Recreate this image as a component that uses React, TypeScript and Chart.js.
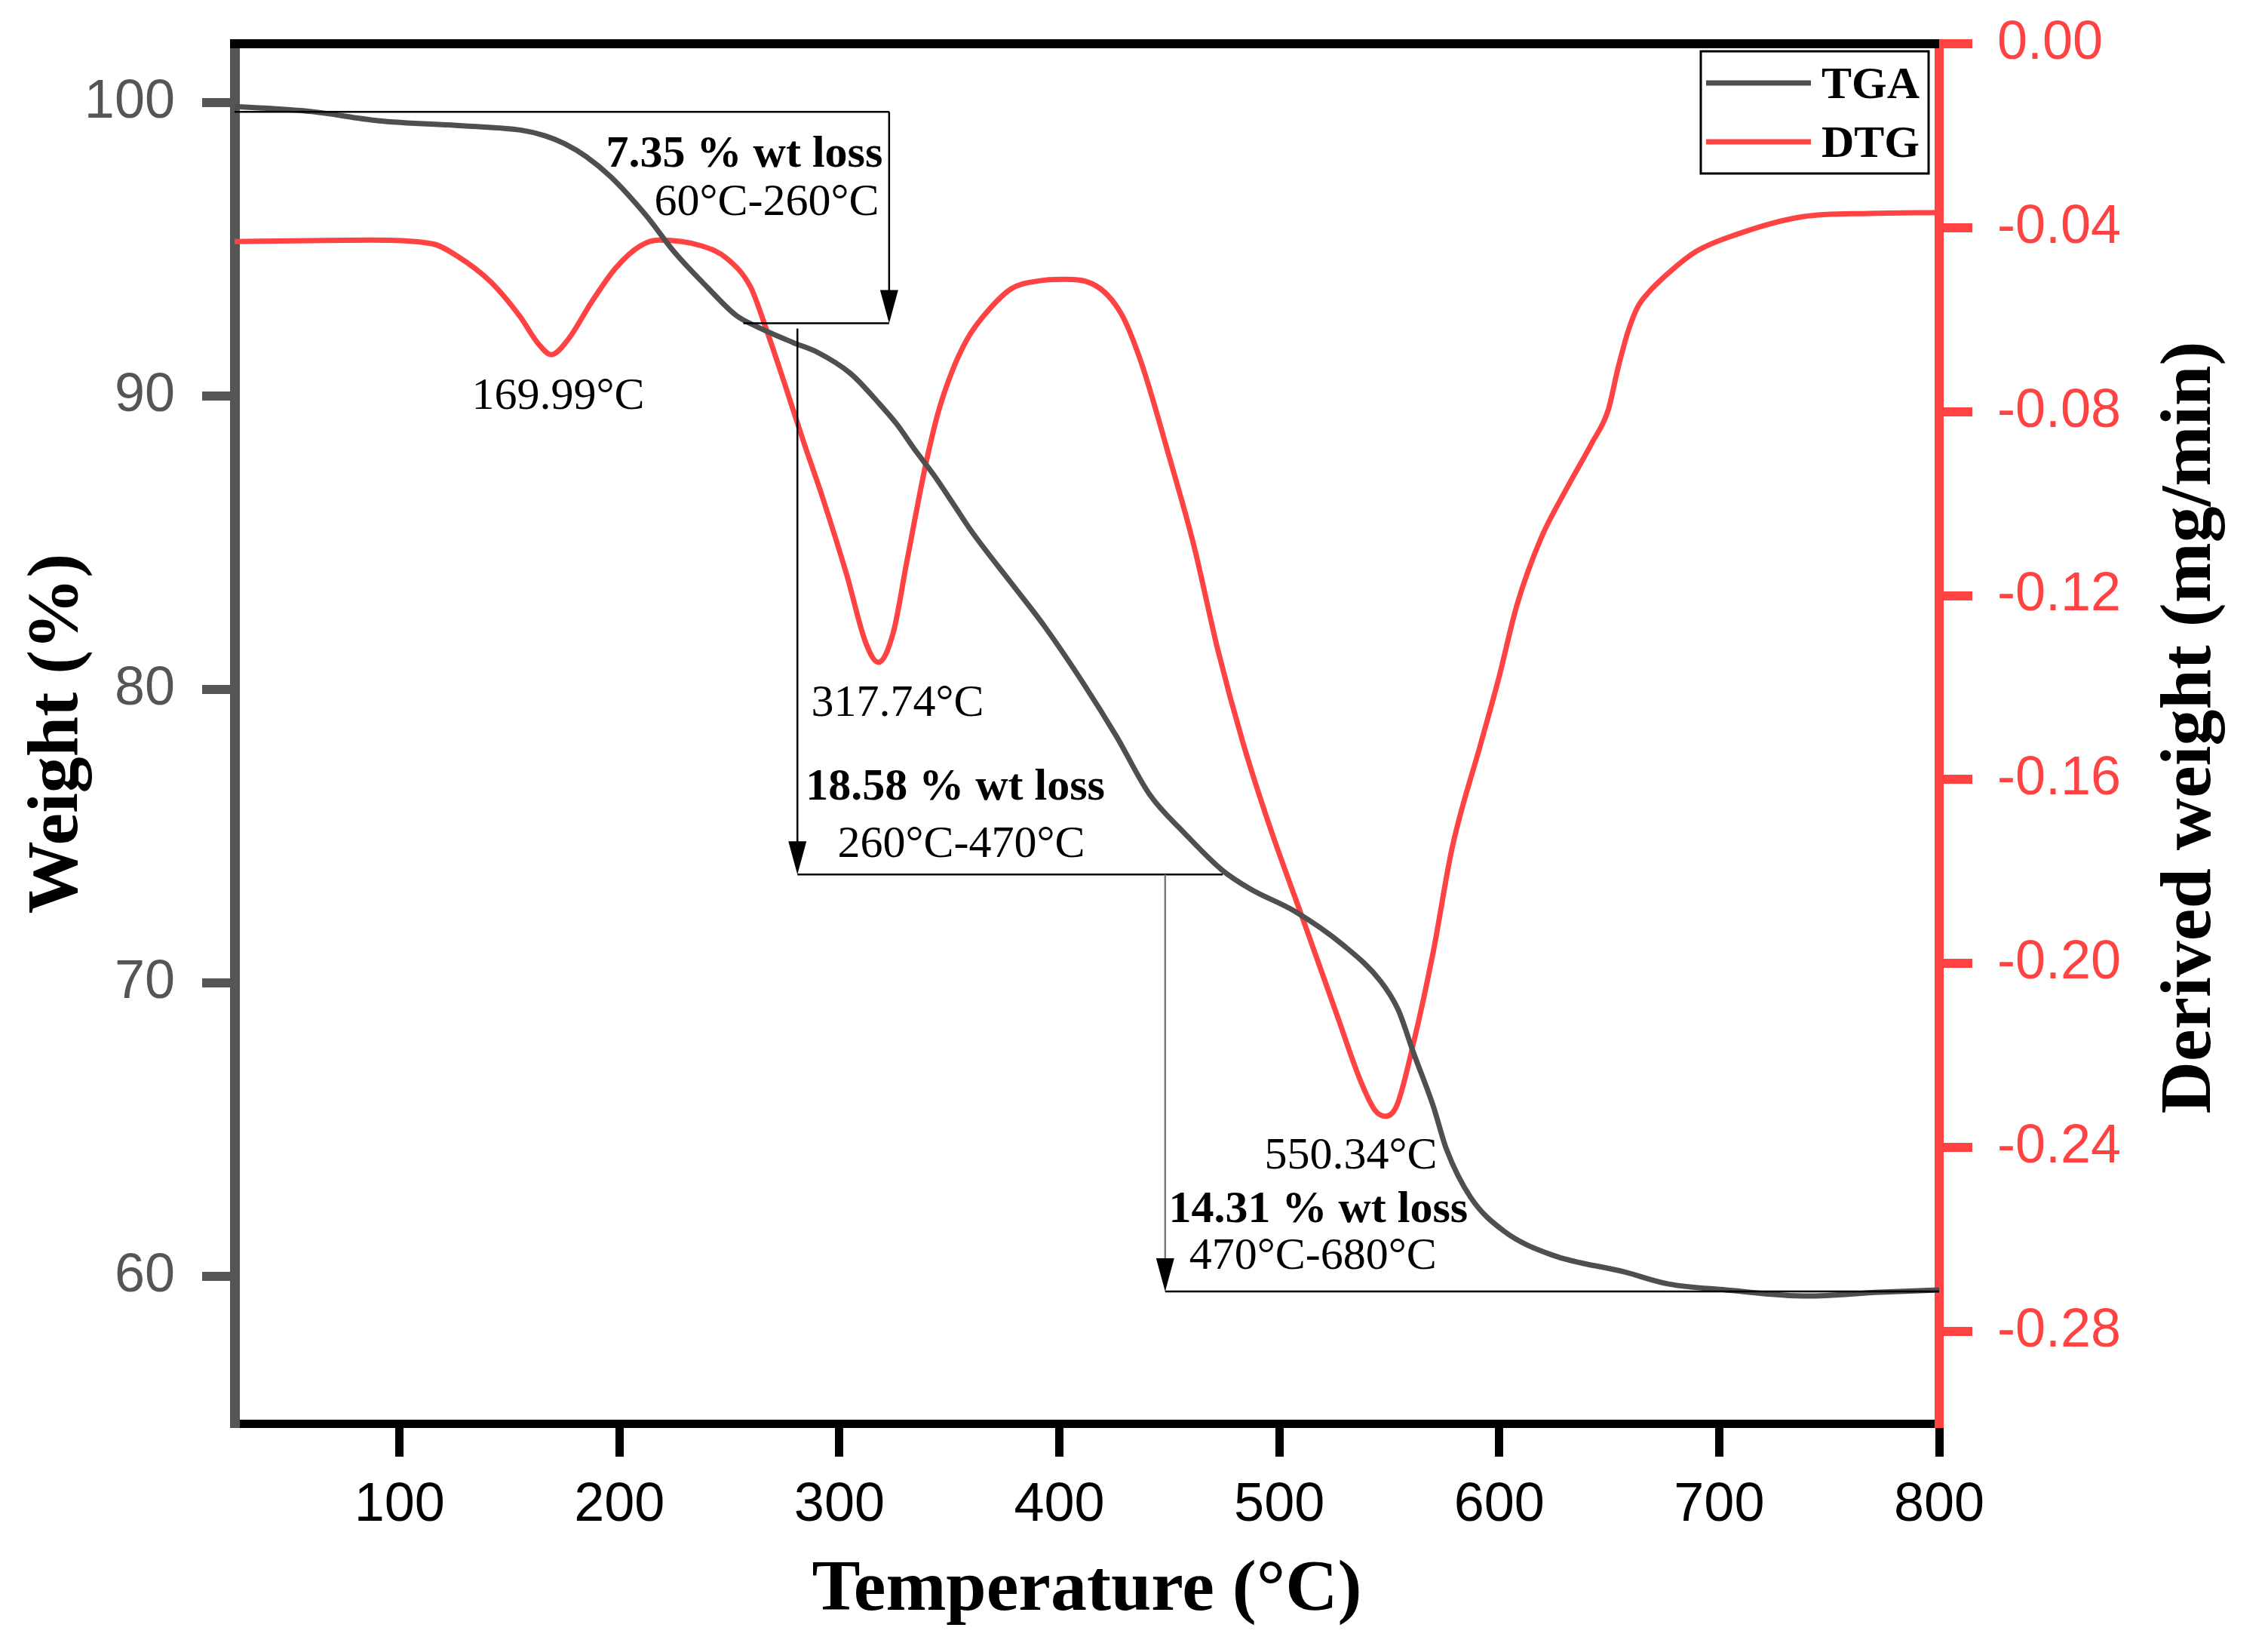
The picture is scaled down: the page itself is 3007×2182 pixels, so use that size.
import { useEffect, useRef } from "react";
import { Chart, registerables } from "chart.js";

Chart.register(...registerables);

// TGA curve: temperature (°C) and weight (%)
const tgaTemp = [25, 40, 60, 90, 130, 155, 166, 175, 185, 196, 212, 225, 240, 253, 262, 279, 290, 305, 318, 326, 334, 343, 352, 360, 378, 393, 411, 426, 441, 457, 474, 487, 507, 529, 546, 554, 561, 570, 576, 587, 602, 624, 657, 677, 703, 740, 773, 800];
const tgaWeight = [99.86, 99.8, 99.69, 99.38, 99.2, 99.06, 98.87, 98.6, 98.15, 97.47, 96.16, 94.9, 93.7, 92.75, 92.38, 91.82, 91.49, 90.77, 89.75, 89.05, 88.2, 87.3, 86.3, 85.4, 83.64, 82.18, 80.2, 78.4, 76.43, 75.1, 73.85, 73.2, 72.45, 71.3, 70.07, 69.1, 67.63, 65.81, 64.34, 62.7, 61.56, 60.74, 60.16, 59.75, 59.55, 59.34, 59.47, 59.55];

// DTG curve: temperature (°C) and derived weight (mg/min)
const dtgTemp = [25, 60, 87, 115, 126, 141.5, 154.6, 163.4, 169, 176.5, 187.4, 198.4, 209.3, 218, 237.7, 248.6, 259.6, 266.2, 275, 283.6, 292.5, 303.4, 312, 317.7, 324.5, 330.5, 339, 345, 351, 358, 365, 378, 390, 402, 415, 428, 437, 450, 461, 472, 483.5, 495.5, 511, 526, 537, 543.5, 548.5, 553.4, 561, 570, 578.5, 591.7, 599.7, 608, 619, 631, 642, 649.5, 654, 658.6, 663, 668, 674, 689, 707, 738, 768, 800];
const dtgRate = [-0.043, -0.0428, -0.0427, -0.0435, -0.0461, -0.0518, -0.0592, -0.0654, -0.0676, -0.0644, -0.0561, -0.0487, -0.044, -0.0427, -0.044, -0.0466, -0.0529, -0.0613, -0.0738, -0.0864, -0.0989, -0.1156, -0.1303, -0.1345, -0.128, -0.113, -0.092, -0.08, -0.0715, -0.0643, -0.0595, -0.0533, -0.0516, -0.0512, -0.0522, -0.0586, -0.069, -0.0899, -0.1088, -0.1317, -0.152, -0.17, -0.1907, -0.2109, -0.2256, -0.2319, -0.2332, -0.2309, -0.2173, -0.1974, -0.175, -0.152, -0.1381, -0.1221, -0.1075, -0.0964, -0.0869, -0.0797, -0.0705, -0.0625, -0.0572, -0.054, -0.0511, -0.0453, -0.0416, -0.0376, -0.0369, -0.0367];

// tick labels
const tempTicks = [100, 200, 300, 400, 500, 600, 700, 800];
const weightTicks = [60, 70, 80, 90, 100];
const rateTicks = [0, -0.04, -0.08, -0.12, -0.16, -0.2, -0.24, -0.28];

// annotation texts (data units: temperature, weight at baseline)
const notes = [
  { text: "7.35 % wt loss", x: 256.8, y: 97.8, bold: true },
  { text: "60°C-260°C", x: 266.9, y: 96.16 },
  { text: "169.99°C", x: 172.1, y: 89.57 },
  { text: "317.74°C", x: 326.4, y: 79.11 },
  { text: "18.58 % wt loss", x: 352.7, y: 76.24, bold: true },
  { text: "260°C-470°C", x: 355.4, y: 74.3 },
  { text: "550.34°C", x: 532.5, y: 63.68 },
  { text: "14.31 % wt loss", x: 517.7, y: 61.87, bold: true },
  { text: "470°C-680°C", x: 515.3, y: 60.28 },
];

// bracket lines (data units), arrow head at "to"
const brackets = [
  { from: [25, 99.68], to: [322.6, 99.68] },
  { from: [322.6, 99.68], to: [322.6, 92.48], arrow: true },
  { from: [256.3, 92.48], to: [322.6, 92.48] },
  { from: [280.9, 92.3], to: [280.9, 73.7], arrow: true },
  { from: [280.9, 73.7], to: [474.3, 73.7] },
  { from: [448.1, 73.7], to: [448.1, 59.5], arrow: true, grey: true },
  { from: [448.1, 59.5], to: [800, 59.5] },
];

const W = 3007;
const H = 2182;
const RED = "#ff4242";
const GREY = "#555555";
const LINE = "#4f4f4f";
const SERIF = "'Liberation Serif', 'Times New Roman', serif";
const SANS = "'Liberation Sans', Arial, sans-serif";

const extras = {
  id: "extras",
  afterDatasetsDraw(chart: any) {
    const { ctx, chartArea: a, scales } = chart;
    const sx = scales.x;
    const sy = scales.y;
    ctx.save();

    // top frame
    ctx.strokeStyle = "#000";
    ctx.lineWidth = 12;
    ctx.beginPath();
    ctx.moveTo(a.left - 6, a.top);
    ctx.lineTo(a.right, a.top);
    ctx.stroke();

    // brackets and arrows
    for (const b of brackets) {
      const x1 = sx.getPixelForValue(b.from[0]);
      const y1 = sy.getPixelForValue(b.from[1]);
      const x2 = sx.getPixelForValue(b.to[0]);
      const y2 = sy.getPixelForValue(b.to[1]);
      ctx.strokeStyle = b.grey ? "#7a7a7a" : "#000";
      ctx.lineWidth = 2.5;
      ctx.beginPath();
      ctx.moveTo(x1, y1);
      ctx.lineTo(x2, b.arrow ? y2 - 40 : y2);
      ctx.stroke();
      if (b.arrow) {
        ctx.fillStyle = "#000";
        ctx.beginPath();
        ctx.moveTo(x2 - 12, y2 - 44);
        ctx.lineTo(x2 + 12, y2 - 44);
        ctx.lineTo(x2, y2);
        ctx.closePath();
        ctx.fill();
      }
    }

    // annotation texts
    ctx.fillStyle = "#000";
    ctx.textAlign = "center";
    ctx.textBaseline = "alphabetic";
    for (const n of notes) {
      ctx.font = `${n.bold ? "bold " : ""}60px ${SERIF}`;
      ctx.fillText(n.text, sx.getPixelForValue(n.x), sy.getPixelForValue(n.y));
    }

    // legend box
    ctx.font = `bold 60px ${SERIF}`;
    const sets = chart.data.datasets;
    const textW = Math.max(...sets.map((d: any) => ctx.measureText(d.label).width));
    const boxW = 160 + textW + 12;
    const boxH = 162;
    const bx = a.right - 14 - boxW;
    const by = a.top + 10;
    ctx.lineWidth = 3;
    ctx.strokeStyle = "#000";
    ctx.strokeRect(bx, by, boxW, boxH);
    ctx.textAlign = "left";
    ctx.textBaseline = "middle";
    sets.forEach((d: any, i: number) => {
      const cy = by + 42 + i * 78;
      ctx.strokeStyle = d.borderColor;
      ctx.lineWidth = 7;
      ctx.beginPath();
      ctx.moveTo(bx + 7, cy);
      ctx.lineTo(bx + 146, cy);
      ctx.stroke();
      ctx.fillStyle = "#000";
      ctx.fillText(d.label, bx + 160, cy + 4);
    });

    // right axis title, reading bottom to top
    ctx.translate(W - 102, (a.top + a.bottom) / 2 - 8);
    ctx.rotate(-Math.PI / 2);
    ctx.font = `bold 96px ${SERIF}`;
    ctx.textAlign = "center";
    ctx.textBaseline = "middle";
    ctx.fillStyle = "#000";
    ctx.fillText("Derived weight (mg/min)", 0, 0);
    ctx.restore();
  },
};

const noEdgePadding = (s: any) => {
  s.paddingTop = 0;
  s.paddingBottom = 0;
  s.paddingLeft = 0;
  s.paddingRight = 0;
};

export default function App() {
  const canvasRef = useRef<HTMLCanvasElement>(null);

  useEffect(() => {
    document.body.style.margin = "0";
    const chart = new Chart(canvasRef.current!, {
      type: "line",
      data: {
        datasets: [
          {
            label: "TGA",
            data: tgaTemp.map((t, i) => ({ x: t, y: tgaWeight[i] })),
            borderColor: LINE,
            borderWidth: 7,
            pointRadius: 0,
            cubicInterpolationMode: "monotone",
            yAxisID: "y",
          },
          {
            label: "DTG",
            data: dtgTemp.map((t, i) => ({ x: t, y: dtgRate[i] })),
            borderColor: RED,
            borderWidth: 7,
            pointRadius: 0,
            cubicInterpolationMode: "monotone",
            yAxisID: "y1",
          },
        ],
      },
      options: {
        responsive: false,
        animation: false,
        devicePixelRatio: 1,
        layout: { padding: { top: 58, left: 0, right: 0, bottom: 0 } },
        plugins: { legend: { display: false }, tooltip: { enabled: false } },
        scales: {
          x: {
            type: "linear",
            min: 25,
            max: 800,
            afterBuildTicks: (s: any) => {
              s.ticks = tempTicks.map((v) => ({ value: v }));
            },
            afterFit: (s: any) => {
              s.height = 295;
              noEdgePadding(s);
            },
            grid: { drawOnChartArea: false, color: "#000", lineWidth: 11, tickLength: 44 },
            border: { color: "#000", width: 11 },
            ticks: { color: "#000", font: { family: SANS, size: 72 }, padding: 22, maxRotation: 0, autoSkip: false },
            title: {
              display: true,
              text: "Temperature (°C)",
              color: "#000",
              font: { family: SERIF, size: 96, weight: "bold" },
              padding: { top: 0, bottom: 15 },
            },
          },
          y: {
            position: "left",
            min: 55,
            max: 102,
            afterBuildTicks: (s: any) => {
              s.ticks = weightTicks.map((v) => ({ value: v }));
            },
            afterFit: (s: any) => {
              s.width = 311;
              noEdgePadding(s);
            },
            grid: { drawOnChartArea: false, color: GREY, lineWidth: 12, tickLength: 43 },
            border: { color: GREY, width: 13 },
            ticks: { color: GREY, font: { family: SANS, size: 72 }, padding: 36 },
            title: {
              display: true,
              text: "Weight (%)",
              color: "#000",
              font: { family: SERIF, size: 96, weight: "bold" },
              padding: { top: 20, bottom: 0 },
            },
          },
          y1: {
            position: "right",
            min: -0.3,
            max: 0,
            afterBuildTicks: (s: any) => {
              s.ticks = rateTicks.map((v) => ({ value: v }));
            },
            afterFit: (s: any) => {
              s.width = 436;
              noEdgePadding(s);
            },
            grid: { drawOnChartArea: false, color: RED, lineWidth: 12, tickLength: 44 },
            border: { color: RED, width: 12 },
            ticks: {
              color: RED,
              font: { family: SANS, size: 72 },
              padding: 33,
              callback: (v: any) => Number(v).toFixed(2),
            },
          },
        },
      },
      plugins: [extras],
    } as any);
    return () => chart.destroy();
  }, []);

  return (
    <div style={{ width: W, height: H }}>
      <canvas ref={canvasRef} width={W} height={H} style={{ display: "block" }} />
    </div>
  );
}
